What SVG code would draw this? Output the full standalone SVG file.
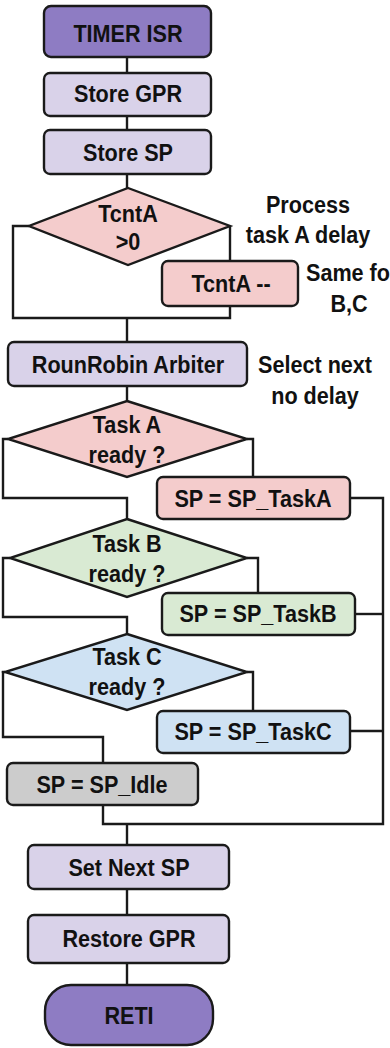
<svg xmlns="http://www.w3.org/2000/svg" width="390" height="1048" viewBox="0 0 390 1048">
  <style>
    .n { stroke: #1a1a1a; stroke-width: 2.4; }
    .term { fill: #8e7cc3; }
    .step { fill: #d9d2e9; }
    .ta { fill: #f4cccc; }
    .tb { fill: #d9ead3; }
    .tc { fill: #cfe2f3; }
    .idle { fill: #cccccc; }
    .wire { fill: none; stroke: #1a1a1a; stroke-width: 2.4; stroke-linejoin: miter; }
    text { font-family: "Liberation Sans", Arial, sans-serif; font-weight: bold; font-size: 24px; fill: #111; text-anchor: middle;
           transform-box: fill-box; transform-origin: center; transform: scaleX(0.9); }
  </style>
  <rect width="390" height="1048" fill="#ffffff"/>

  <g id="connectors">
    <path class="wire" d="M127 57 V73"/>
    <path class="wire" d="M127 116 V130"/>
    <path class="wire" d="M127 174 V188"/>
    <path class="wire" d="M29 226 H13 V318 H230 V306"/>
    <path class="wire" d="M230 226 V261"/>
    <path class="wire" d="M127 318 V342"/>
    <path class="wire" d="M127 386 V401"/>
    <path class="wire" d="M8 439 H3 V498 H127 V519"/>
    <path class="wire" d="M247 439 H253 V477"/>
    <path class="wire" d="M350 498 H383 V824 H103 V805"/>
    <path class="wire" d="M10 558 H3 V617 H127 V634"/>
    <path class="wire" d="M247 558 H258 V593"/>
    <path class="wire" d="M355 614 H383"/>
    <path class="wire" d="M5 672 H3 V737 H103 V763"/>
    <path class="wire" d="M247 672 H253 V711"/>
    <path class="wire" d="M350 731 H383"/>
    <path class="wire" d="M127 824 V845"/>
    <path class="wire" d="M127 889 V915"/>
    <path class="wire" d="M127 963 V985"/>
  </g>

  <g id="timer-isr">
    <rect class="n term" x="44" y="6" width="167" height="51" rx="7"/>
    <text x="128" y="42">TIMER ISR</text>
  </g>
  <g id="store-gpr">
    <rect class="n step" x="44" y="73" width="167" height="43" rx="6"/>
    <text x="128" y="102">Store GPR</text>
  </g>
  <g id="store-sp">
    <rect class="n step" x="44" y="130" width="167" height="44" rx="6"/>
    <text x="128" y="161">Store SP</text>
  </g>
  <g id="tcnta-check">
    <polygon class="n ta" points="128,188 230,226 128,265 29,226"/>
    <text x="128" y="222">TcntA</text>
    <text x="128" y="250">&gt;0</text>
  </g>
  <g id="tcnta-dec">
    <rect class="n ta" x="162" y="261" width="136" height="45" rx="6"/>
    <text x="231" y="292">TcntA --</text>
  </g>
  <g id="note-delay">
    <text x="308" y="213">Process</text>
    <text x="308" y="243">task A delay</text>
  </g>
  <g id="note-same">
    <text x="348" y="281">Same fo</text>
    <text x="349" y="312">B,C</text>
  </g>
  <g id="arbiter">
    <rect class="n step" x="8" y="342" width="239" height="44" rx="6"/>
    <text x="128" y="373">RounRobin Arbiter</text>
  </g>
  <g id="note-select">
    <text x="315" y="373">Select next</text>
    <text x="315" y="404">no delay</text>
  </g>
  <g id="task-a-ready">
    <polygon class="n ta" points="127,401 247,439 127,477 8,439"/>
    <text x="127" y="433">Task A</text>
    <text x="127" y="463">ready ?</text>
  </g>
  <g id="sp-task-a">
    <rect class="n ta" x="157" y="477" width="193" height="42" rx="6"/>
    <text x="253" y="507">SP = SP_TaskA</text>
  </g>
  <g id="task-b-ready">
    <polygon class="n tb" points="127,519 247,558 127,597 10,558"/>
    <text x="127" y="552">Task B</text>
    <text x="127" y="582">ready ?</text>
  </g>
  <g id="sp-task-b">
    <rect class="n tb" x="162" y="593" width="193" height="42" rx="6"/>
    <text x="258" y="622">SP = SP_TaskB</text>
  </g>
  <g id="task-c-ready">
    <polygon class="n tc" points="127,634 247,672 127,710 5,672"/>
    <text x="127" y="665">Task C</text>
    <text x="127" y="695">ready ?</text>
  </g>
  <g id="sp-task-c">
    <rect class="n tc" x="157" y="711" width="193" height="42" rx="6"/>
    <text x="253" y="740">SP = SP_TaskC</text>
  </g>
  <g id="sp-idle">
    <rect class="n idle" x="7" y="763" width="191" height="42" rx="6"/>
    <text x="102" y="793">SP = SP_Idle</text>
  </g>
  <g id="set-next-sp">
    <rect class="n step" x="28" y="845" width="201" height="44" rx="6"/>
    <text x="129" y="876">Set Next SP</text>
  </g>
  <g id="restore-gpr">
    <rect class="n step" x="28" y="915" width="201" height="48" rx="6"/>
    <text x="129" y="947">Restore GPR</text>
  </g>
  <g id="reti">
    <rect class="n term" x="45" y="985" width="168" height="60" rx="26"/>
    <text x="129" y="1024">RETI</text>
  </g>
</svg>
